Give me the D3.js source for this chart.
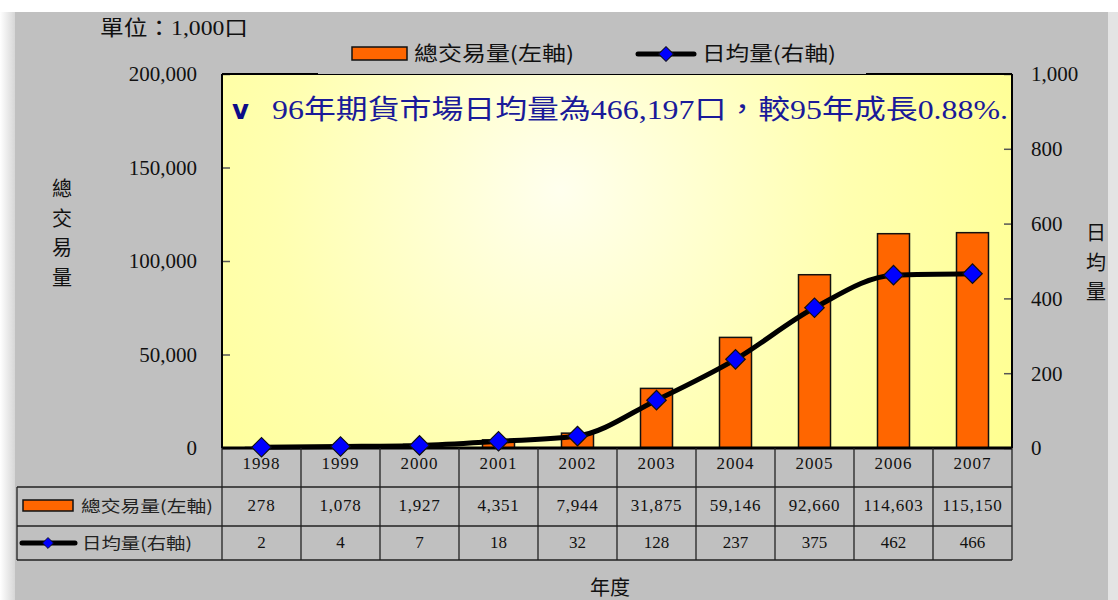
<!DOCTYPE html>
<html>
<head>
<meta charset="utf-8">
<script src="https://cdn.jsdelivr.net/npm/d3@7"></script>
<style>
  body { margin: 0; background: #fff; }
  svg { display: block; }
  .serif { font-family: "Liberation Serif", "Noto Sans CJK TC", serif; }
  .cjk { font-family: "Noto Sans CJK TC", "Liberation Serif", sans-serif; }
</style>
</head>
<body>
<svg id="chart" width="1118" height="600"></svg>
<script>
// data
const years = ["1998", "1999", "2000", "2001", "2002", "2003", "2004", "2005", "2006", "2007"];
const totalVolume = [278, 1078, 1927, 4351, 7944, 31875, 59146, 92660, 114603, 115150];
const dailyAvg = [2, 4, 7, 18, 32, 128, 237, 375, 462, 466];
const leftTicks = [0, 50000, 100000, 150000, 200000];
const rightTicks = [0, 200, 400, 600, 800, 1000];

const seriesNames = ["總交易量(左軸)", "日均量(右軸)"];
const unitLabel = "單位：1,000口";
const note = "96年期貨市場日均量為466,197口，較95年成長0.88%.";

const fmt = d3.format(",");

const svg = d3.select("#chart");
const plot = { left: 222, right: 1012, top: 74, bottom: 448 };

// background
const defs = svg.append("defs");
const edge = defs.append("linearGradient").attr("id", "edge");
edge.append("stop").attr("offset", "0%").attr("stop-color", "#ffffff");
edge.append("stop").attr("offset", "100%").attr("stop-color", "#d6d6d6");
svg.append("rect").attr("x", 0).attr("y", 12).attr("width", 15).attr("height", 588).attr("fill", "url(#edge)");
svg.append("rect").attr("x", 15).attr("y", 12).attr("width", 1093).attr("height", 588).attr("fill", "#c0c0c0");
svg.append("rect").attr("x", 1108).attr("y", 12).attr("width", 10).attr("height", 588).attr("fill", "#e4e4e4");

const glow = defs.append("radialGradient").attr("id", "glow")
  .attr("gradientUnits", "userSpaceOnUse")
  .attr("cx", 560).attr("cy", 190).attr("r", 520);
glow.append("stop").attr("offset", "0%").attr("stop-color", "#ffffee");
glow.append("stop").attr("offset", "55%").attr("stop-color", "#ffffb0");
glow.append("stop").attr("offset", "100%").attr("stop-color", "#ffff90");

svg.append("rect")
  .attr("x", plot.left).attr("y", plot.top)
  .attr("width", plot.right - plot.left).attr("height", plot.bottom - plot.top)
  .attr("fill", "url(#glow)");

// scales
const x = d3.scaleBand().domain(years).range([plot.left, plot.right]);
const yL = d3.scaleLinear().domain([0, 200000]).range([plot.bottom, plot.top]);
const yR = d3.scaleLinear().domain([0, 1000]).range([plot.bottom, plot.top]);

// axes
const leftAxis = svg.append("g").attr("transform", `translate(${plot.left},0)`)
  .call(d3.axisRight(yL).tickValues(leftTicks).tickSize(8).tickFormat(""));
leftAxis.select(".domain").remove();
leftAxis.selectAll("line").attr("stroke", "#555").attr("stroke-width", 1.5);

const rightAxis = svg.append("g").attr("transform", `translate(${plot.right},0)`)
  .call(d3.axisLeft(yR).tickValues(rightTicks).tickSize(8).tickFormat(""));
rightAxis.select(".domain").remove();
rightAxis.selectAll("line").attr("stroke", "#555").attr("stroke-width", 1.5);

svg.append("g").selectAll("text").data(leftTicks).join("text")
  .attr("class", "serif")
  .attr("x", 197).attr("y", d => yL(d)).attr("dy", "0.35em")
  .attr("text-anchor", "end").attr("font-size", 21).attr("fill", "#111")
  .text(d => fmt(d));

svg.append("g").selectAll("text").data(rightTicks).join("text")
  .attr("class", "serif")
  .attr("x", 1031).attr("y", d => yR(d)).attr("dy", "0.35em")
  .attr("font-size", 21).attr("fill", "#111")
  .text(d => fmt(d));

// bars
svg.append("g").selectAll("rect").data(totalVolume).join("rect")
  .attr("x", (d, i) => x(years[i]) + x.bandwidth() / 2 - 16)
  .attr("y", d => yL(d))
  .attr("width", 32)
  .attr("height", d => plot.bottom - yL(d))
  .attr("fill", "#ff6600").attr("stroke", "#111").attr("stroke-width", 1.5);

// frame
svg.append("line").attr("x1", plot.left).attr("x2", plot.left).attr("y1", plot.top).attr("y2", plot.bottom)
  .attr("stroke", "#000").attr("stroke-width", 2);
svg.append("line").attr("x1", plot.right).attr("x2", plot.right).attr("y1", plot.top).attr("y2", plot.bottom)
  .attr("stroke", "#000").attr("stroke-width", 2);
svg.append("line").attr("x1", plot.left).attr("x2", plot.right).attr("y1", plot.top).attr("y2", plot.top)
  .attr("stroke", "#000").attr("stroke-width", 2);

// smoothed line + diamonds
const line = d3.line()
  .x((d, i) => x(years[i]) + x.bandwidth() / 2)
  .y(d => yR(d))
  .curve(d3.curveMonotoneX);
svg.append("path").datum(dailyAvg).attr("d", line)
  .attr("fill", "none").attr("stroke", "#000").attr("stroke-width", 5);

svg.append("line").attr("x1", plot.left).attr("x2", plot.right).attr("y1", plot.bottom).attr("y2", plot.bottom)
  .attr("stroke", "#000").attr("stroke-width", 3);

const diamond = d3.symbol().type(d3.symbolSquare).size(190);
svg.append("g").selectAll("path").data(dailyAvg).join("path")
  .attr("d", diamond)
  .attr("transform", (d, i) => `translate(${x(years[i]) + x.bandwidth() / 2},${yR(d)}) rotate(45)`)
  .attr("fill", "#0000ff").attr("stroke", "#111").attr("stroke-width", 1.2);

// annotation
svg.append("text").attr("x", 232).attr("y", 119)
  .attr("font-family", "DejaVu Sans, sans-serif").attr("font-weight", "bold")
  .attr("font-size", 26).attr("fill", "#0c0c88").text("v");
svg.append("text").attr("class", "serif")
  .attr("x", 272).attr("y", 119)
  .attr("font-size", 27).attr("fill", "#1a1a99")
  .attr("textLength", 736).attr("lengthAdjust", "spacingAndGlyphs")
  .text(note);

// top legend
svg.append("rect").attr("x", 318).attr("y", 36).attr("width", 548).attr("height", 38).attr("fill", "#c0c0c0");
svg.append("rect").attr("x", 352).attr("y", 47).attr("width", 55).attr("height", 13)
  .attr("fill", "#ff6600").attr("stroke", "#111").attr("stroke-width", 1.5);
svg.append("text").attr("class", "cjk").attr("x", 414).attr("y", 61)
  .attr("font-size", 20).attr("fill", "#111")
  .attr("textLength", 160).attr("lengthAdjust", "spacingAndGlyphs").text(seriesNames[0]);
svg.append("line").attr("x1", 638).attr("x2", 694).attr("y1", 54).attr("y2", 54)
  .attr("stroke", "#000").attr("stroke-width", 5).attr("stroke-linecap", "round");
svg.append("path").attr("d", d3.symbol().type(d3.symbolSquare).size(110))
  .attr("transform", "translate(666,54) rotate(45)")
  .attr("fill", "#0000ff").attr("stroke", "#111").attr("stroke-width", 1);
svg.append("text").attr("class", "cjk").attr("x", 702).attr("y", 61)
  .attr("font-size", 20).attr("fill", "#111")
  .attr("textLength", 134).attr("lengthAdjust", "spacingAndGlyphs").text(seriesNames[1]);

// unit + axis titles
svg.append("text").attr("class", "serif").attr("x", 100).attr("y", 35)
  .attr("font-size", 21).attr("fill", "#111")
  .attr("textLength", 148).attr("lengthAdjust", "spacingAndGlyphs").text(unitLabel);

svg.append("g").selectAll("text").data(Array.from("總交易量")).join("text")
  .attr("class", "cjk").attr("x", 62).attr("y", (d, i) => 196 + i * 29.5)
  .attr("text-anchor", "middle").attr("font-size", 20).attr("fill", "#111").text(d => d);

svg.append("g").selectAll("text").data(Array.from("日均量")).join("text")
  .attr("class", "cjk").attr("x", 1096).attr("y", (d, i) => 240 + i * 29.5)
  .attr("text-anchor", "middle").attr("font-size", 20).attr("fill", "#111").text(d => d);

svg.append("text").attr("class", "cjk").attr("x", 610).attr("y", 595)
  .attr("text-anchor", "middle").attr("font-size", 20).attr("fill", "#111").text("年度");

// data table
const rows = { r0: 448, r1: 487, r2: 526, r3: 560 };
const tbl = svg.append("g").attr("stroke", "#222").attr("stroke-width", 1.3);
tbl.append("line").attr("x1", 17).attr("x2", plot.right).attr("y1", rows.r1).attr("y2", rows.r1);
tbl.append("line").attr("x1", 17).attr("x2", plot.right).attr("y1", rows.r2).attr("y2", rows.r2);
tbl.append("line").attr("x1", 17).attr("x2", plot.right).attr("y1", rows.r3).attr("y2", rows.r3);
tbl.append("line").attr("x1", 17).attr("x2", 17).attr("y1", rows.r1).attr("y2", rows.r3);
tbl.selectAll("line.col").data(years.concat(["end"])).join("line").attr("class", "col")
  .attr("x1", (d, i) => plot.left + i * x.bandwidth())
  .attr("x2", (d, i) => plot.left + i * x.bandwidth())
  .attr("y1", rows.r0).attr("y2", rows.r3);

const cx = d => x(d) + x.bandwidth() / 2;
svg.append("g").selectAll("text").data(years).join("text")
  .attr("class", "serif").attr("x", d => cx(d)).attr("y", 469)
  .attr("text-anchor", "middle").attr("font-size", 17).attr("fill", "#111")
  .attr("letter-spacing", 1).text(d => d);
svg.append("g").selectAll("text").data(totalVolume).join("text")
  .attr("class", "serif").attr("x", (d, i) => cx(years[i])).attr("y", 511)
  .attr("text-anchor", "middle").attr("font-size", 17).attr("fill", "#111")
  .attr("letter-spacing", 0.8).text(d => fmt(d));
svg.append("g").selectAll("text").data(dailyAvg).join("text")
  .attr("class", "serif").attr("x", (d, i) => cx(years[i])).attr("y", 548)
  .attr("text-anchor", "middle").attr("font-size", 17).attr("fill", "#111")
  .text(d => fmt(d));

// table legend keys
svg.append("rect").attr("x", 23).attr("y", 500).attr("width", 50).attr("height", 11)
  .attr("fill", "#ff6600").attr("stroke", "#111").attr("stroke-width", 1.5);
svg.append("text").attr("class", "cjk").attr("x", 81).attr("y", 512)
  .attr("font-size", 16).attr("fill", "#222")
  .attr("textLength", 132).attr("lengthAdjust", "spacingAndGlyphs").text(seriesNames[0]);
svg.append("line").attr("x1", 22).attr("x2", 75).attr("y1", 543).attr("y2", 543)
  .attr("stroke", "#000").attr("stroke-width", 5).attr("stroke-linecap", "round");
svg.append("path").attr("d", d3.symbol().type(d3.symbolSquare).size(60))
  .attr("transform", "translate(48,543) rotate(45)")
  .attr("fill", "#0000ff").attr("stroke", "#111").attr("stroke-width", 0.8);
svg.append("text").attr("class", "cjk").attr("x", 82).attr("y", 549)
  .attr("font-size", 16).attr("fill", "#222")
  .attr("textLength", 110).attr("lengthAdjust", "spacingAndGlyphs").text(seriesNames[1]);
</script>
</body>
</html>
